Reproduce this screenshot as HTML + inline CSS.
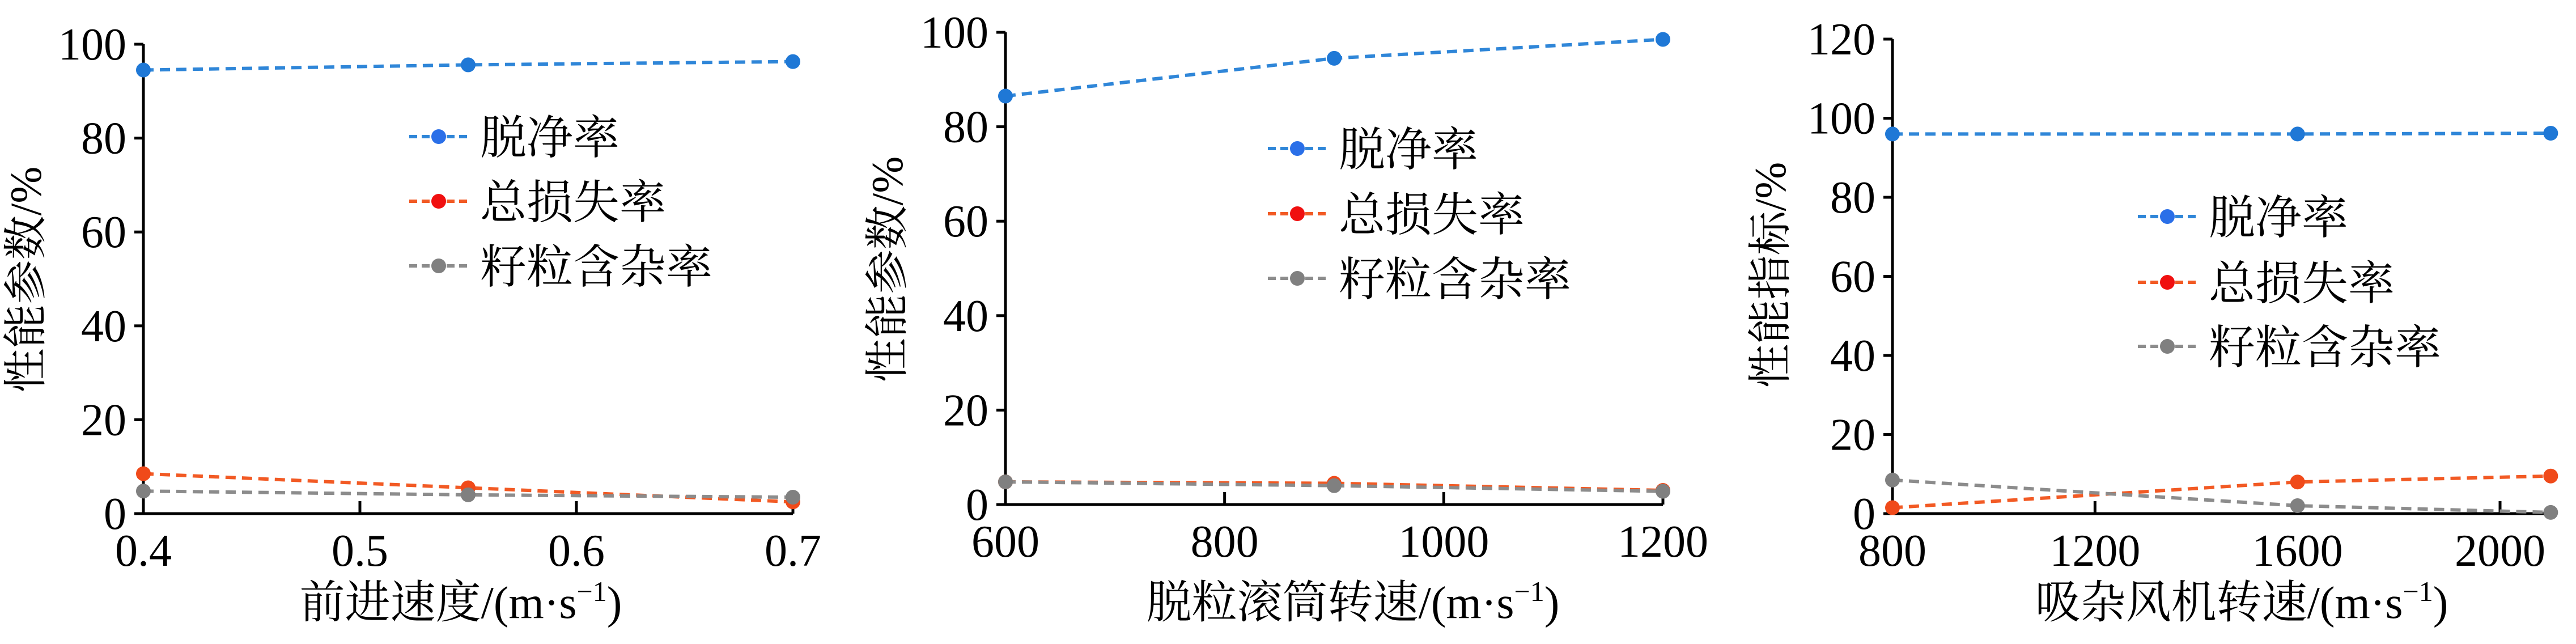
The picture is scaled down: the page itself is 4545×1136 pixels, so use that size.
<!DOCTYPE html>
<html><head><meta charset="utf-8"><style>
html,body{margin:0;padding:0;background:#fff;}
svg{display:block;}
</style></head><body>
<svg id="chart" width="4545" height="1136" viewBox="0 0 4545 1136" xmlns="http://www.w3.org/2000/svg"></svg>
<script>
// Panel 1 data
const p1X = [0.4, 0.55, 0.7];
const p1Clean = [94.5, 95.6, 96.3];
const p1Loss = [8.5, 5.5, 2.5];
const p1Impurity = [4.8, 4.0, 3.5];
const p1XTicks = [0.4, 0.5, 0.6, 0.7];
const p1XTickLabels = ["0.4", "0.5", "0.6", "0.7"];
const p1YTicks = [0, 20, 40, 60, 80, 100];
// Panel 2 data
const p2X = [600, 900, 1200];
const p2Clean = [86.5, 94.5, 98.5];
const p2Loss = [4.8, 4.5, 3.0];
const p2Impurity = [4.8, 4.0, 2.8];
const p2XTicks = [600, 800, 1000, 1200];
const p2XTickLabels = ["600", "800", "1000", "1200"];
const p2YTicks = [0, 20, 40, 60, 80, 100];
// Panel 3 data
const p3X = [800, 1600, 2100];
const p3Clean = [96.0, 96.0, 96.2];
const p3Loss = [1.5, 8.0, 9.5];
const p3Impurity = [8.5, 2.0, 0.3];
const p3XTicks = [800, 1200, 1600, 2000];
const p3XTickLabels = ["800", "1200", "1600", "2000"];
const p3YTicks = [0, 20, 40, 60, 80, 100, 120];
const legendLabels = ["脱净率", "总损失率", "籽粒含杂率"];

const NS = "http://www.w3.org/2000/svg";
const svg = document.getElementById("chart");
function mk(tag, attrs, parent) {
  const e = document.createElementNS(NS, tag);
  for (const k in attrs) e.setAttribute(k, attrs[k]);
  (parent || svg).appendChild(e);
  return e;
}
const SER = [
  {line: "#2f86d8", mark: "#1f78d6", lmark: "#2a6fe8"},
  {line: "#f25a24", mark: "#f04a1a", lmark: "#f01010"},
  {line: "#8c8c8c", mark: "#808080", lmark: "#808080"}
];
const NUM = '"Liberation Serif", serif';
const CJK = '"Liberation Serif", "Noto Serif CJK SC", "Noto Sans CJK SC", serif';

function panel(cfg) {
  const g = mk("g", {});
  
  
  const sx = v => cfg.x0 + (v - cfg.xmin) / (cfg.xmax - cfg.xmin) * (cfg.x1 - cfg.x0);
  const sy = v => cfg.y0 - v / cfg.ymax * (cfg.y0 - cfg.y1);
  const ya = mk("line", {x1: cfg.x0, y1: sy(cfg.ymax), x2: cfg.x0, y2: cfg.y0, stroke: "#000", "stroke-width": 5}, g);
  
  
  const xa = mk("line", {x1: cfg.x0, y1: cfg.y0, x2: cfg.xEnd, y2: cfg.y0, stroke: "#000", "stroke-width": 5}, g);
  
  
  cfg.yTicks.forEach(t => {
    const y = sy(t);
    const tk = mk("line", {x1: cfg.x0 - 16, y1: y, x2: cfg.x0, y2: y, stroke: "#000", "stroke-width": 5}, g);
    
    
    const tx = mk("text", {x: cfg.x0 - 30, y: y + 27, "text-anchor": "end", "font-family": NUM, "font-size": 80, fill: "#000"}, g);
    tx.textContent = String(t);
    
    
  });
  cfg.xTicks.forEach((t, i) => {
    const x = sx(t);
    const tk = mk("line", {x1: x, y1: cfg.y0 - 22, x2: x, y2: cfg.y0, stroke: "#000", "stroke-width": 5}, g);
    
    
    const tx = mk("text", {x: x, y: cfg.y0 + 92, "text-anchor": "middle", "font-family": NUM, "font-size": 80, fill: "#000"}, g);
    tx.textContent = cfg.xLabels[i];
    
    
  });
  cfg.series.forEach((vals, si) => {
    const pts = vals.map((v, i) => [sx(cfg.xs[i]), sy(v)]);
    const pl = mk("polyline", {points: pts.map(p => p.join(",")).join(" "), fill: "none", stroke: SER[si].line, "stroke-width": 6, "stroke-dasharray": "18 11"}, g);
    
    
    pts.forEach(p => {
      const c = mk("circle", {cx: p[0], cy: p[1], r: 13, fill: SER[si].mark}, g);
      
      
    });
  });
  legendLabels.forEach((lab, i) => {
    const y = cfg.legY[i];
    const ln = mk("line", {x1: cfg.legX, y1: y, x2: cfg.legX + 105, y2: y, stroke: SER[i].line, "stroke-width": 6, "stroke-dasharray": "14 8"}, g);
    
    
    const c = mk("circle", {cx: cfg.legX + 52, cy: y, r: 13, fill: SER[i].lmark}, g);
    
    
    const tx = mk("text", {x: cfg.legX + 125, y: y + 30, "font-family": CJK, "font-size": 82, fill: "#000"}, g);
    tx.textContent = lab;
    
    
  });
  const xt = mk("text", {x: cfg.xtX, y: 1090, "text-anchor": "middle", "font-family": CJK, "font-size": 80, fill: "#000"}, g);
  
  
  xt.innerHTML = cfg.xTitle + '/(m·s<tspan dy="-30" font-size="50">−1</tspan><tspan dy="30">)</tspan>';
  const yt = mk("text", {transform: `translate(${cfg.ytX},${cfg.ytY}) rotate(-90)`, "text-anchor": "middle", "font-family": CJK, "font-size": 78, fill: "#000"}, g);
  yt.textContent = cfg.yTitle + "/%";
  
  
}

panel({name: "panel-forward-speed", x0: 253, x1: 1399, xEnd: 1399, xmin: 0.4, xmax: 0.7, y0: 906, y1: 78, ymax: 100,
  xs: p1X, series: [p1Clean, p1Loss, p1Impurity], xTicks: p1XTicks, xLabels: p1XTickLabels, yTicks: p1YTicks,
  legX: 722, legY: [241, 355, 469], xTitle: "前进速度", xtX: 813, yTitle: "性能参数", ytX: 72, ytY: 493});
panel({name: "panel-drum-speed", x0: 1774, x1: 2934, xEnd: 2934, xmin: 600, xmax: 1200, y0: 890, y1: 57, ymax: 100,
  xs: p2X, series: [p2Clean, p2Loss, p2Impurity], xTicks: p2XTicks, xLabels: p2XTickLabels, yTicks: p2YTicks,
  legX: 2237, legY: [262, 377, 491], xTitle: "脱粒滚筒转速", xtX: 2387, yTitle: "性能参数", ytX: 1592, ytY: 475});
panel({name: "panel-fan-speed", x0: 3339, x1: 4411, xEnd: 4504, xmin: 800, xmax: 2000, y0: 906, y1: 69, ymax: 120,
  xs: p3X, series: [p3Clean, p3Loss, p3Impurity], xTicks: p3XTicks, xLabels: p3XTickLabels, yTicks: p3YTicks,
  legX: 3772, legY: [382, 498, 611], xTitle: "吸杂风机转速", xtX: 3955, yTitle: "性能指标", ytX: 3150, ytY: 485});
</script>
</body></html>
